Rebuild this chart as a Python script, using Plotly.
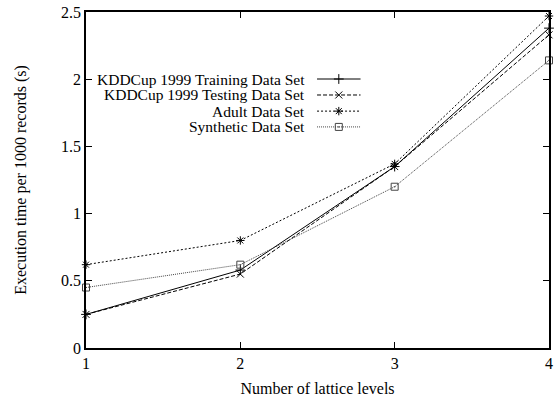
import plotly.graph_objects as go

levels = [1, 2, 3, 4]
training = [0.25, 0.58, 1.35, 2.38]
testing = [0.25, 0.55, 1.35, 2.33]
adult = [0.62, 0.80, 1.37, 2.47]
synthetic = [0.45, 0.62, 1.20, 2.14]

names = ["KDDCup 1999 Training Data Set", "KDDCup 1999 Testing Data Set",
         "Adult Data Set", "Synthetic Data Set"]
series = [training, testing, adult, synthetic]
styles = [
    dict(dash="solid", symbol="cross-thin-open", color="#000000"),
    dict(dash="4px,2px", symbol="x-thin-open", color="#000000"),
    dict(dash="2px,2px", symbol="asterisk-open", color="#000000"),
    dict(dash="1px,1px", symbol="square-open-dot", color="#444444"),
]

FONT = "Liberation Serif"
fig = go.Figure()

for name, ys, st in zip(names, series, styles):
    fig.add_trace(go.Scatter(
        x=levels, y=ys, mode="lines+markers", name=name, showlegend=False,
        line=dict(color=st["color"], width=1, dash=st["dash"]),
        marker=dict(symbol=st["symbol"], size=7, color=st["color"],
                    line=dict(color=st["color"], width=1)),
        cliponaxis=False,
    ))

# manual gnuplot-style legend (text right-aligned, sample on the right)
leg_text_x = 0.4775
leg_x0, leg_x1 = 0.499, 0.593
leg_rows = [0.8006, 0.753, 0.705, 0.658]
for name, st, yr in zip(names, styles, leg_rows):
    fig.add_trace(go.Scatter(
        x=[leg_x0, (leg_x0 + leg_x1) / 2, leg_x1], y=[yr, yr, yr],
        xaxis="x2", yaxis="y2", mode="lines", showlegend=False, hoverinfo="skip",
        line=dict(color=st["color"], width=1, dash=st["dash"]),
    ))
    fig.add_trace(go.Scatter(
        x=[(leg_x0 + leg_x1) / 2], y=[yr],
        xaxis="x2", yaxis="y2", mode="markers", showlegend=False, hoverinfo="skip",
        marker=dict(symbol=st["symbol"], size=7, color=st["color"],
                    line=dict(color=st["color"], width=1)),
    ))
    fig.add_annotation(x=leg_text_x, y=yr, xref="x2", yref="y2", text=name,
                       showarrow=False, xanchor="right", yanchor="middle",
                       font=dict(family=FONT, size=15.5, color="black"))

axis_common = dict(showline=True, linecolor="black", linewidth=1.5, mirror="ticks",
                   ticks="inside", ticklen=6, tickwidth=1, tickcolor="black",
                   showgrid=False, zeroline=False,
                   tickfont=dict(family=FONT, size=16, color="black"))

fig.update_layout(
    width=557, height=402,
    margin=dict(l=86, r=4, t=12, b=54),
    paper_bgcolor="white", plot_bgcolor="white",
    font=dict(family=FONT, size=16, color="black"),
    xaxis=dict(range=[1, 4], tickvals=levels, ticktext=["1", "2", "3", "4"],
               title=dict(text="Number of lattice levels", standoff=12,
                          font=dict(family=FONT, size=16)),
               **axis_common),
    yaxis=dict(range=[0, 2.5], tickvals=[0, 0.5, 1, 1.5, 2, 2.5],
               ticktext=["0", "0.5", "1", "1.5", "2", "2.5"],
               title=dict(text="Execution time per 1000 records (s)", standoff=30,
                          font=dict(family=FONT, size=16)),
               **axis_common),
    xaxis2=dict(overlaying="x", range=[0, 1], visible=False, anchor="y2"),
    yaxis2=dict(overlaying="y", range=[0, 1], visible=False, anchor="x2"),
)

fig.write_html("out.html")
